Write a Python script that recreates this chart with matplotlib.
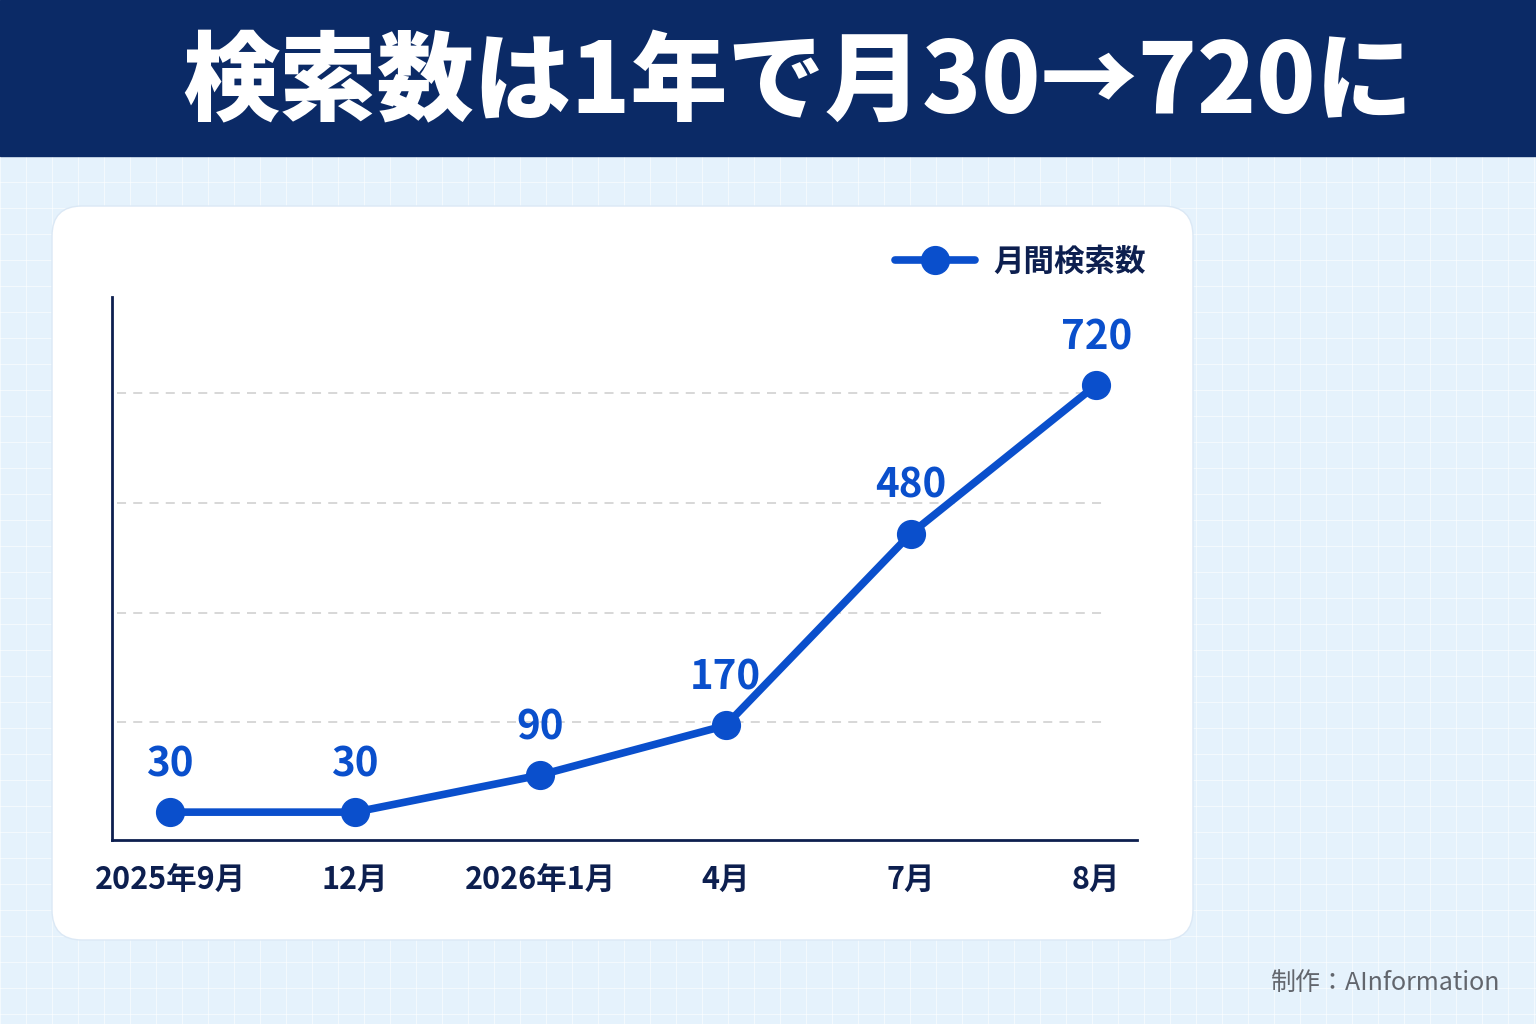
import numpy as np
import matplotlib
matplotlib.use("Agg")
import matplotlib.pyplot as plt
from matplotlib.patches import FancyBboxPatch, Rectangle

plt.rcParams['font.family'] = ['Noto Sans CJK JP', 'DejaVu Sans']

months = ["2025年9月", "12月", "2026年1月", "4月", "7月", "8月"]
searches = [30, 30, 90, 170, 480, 720]
series_name = "月間検索数"
title = "検索数は1年で月30→720に"
credit = "制作：AInformation"

navy = "#0b2a66"
ink = "#0d1f4f"
blue = "#0a4fcc"
bg = "#e5f2fc"

fig = plt.figure(figsize=(15.36, 10.24), dpi=100)
fig.patch.set_facecolor(bg)

# background layer: faint grid, header band, white card
back = fig.add_axes([0, 0, 1, 1])
back.set_xlim(0, 1536)
back.set_ylim(1024, 0)
back.axis("off")
for gx in np.arange(0, 1536, 26):
    back.axvline(gx, color="white", lw=0.8, alpha=0.55, zorder=0)
for gy in np.arange(156, 1024, 26):
    back.axhline(gy, color="white", lw=0.8, alpha=0.55, zorder=0)
back.add_patch(Rectangle((0, 0), 1536, 156, color=navy, zorder=2))
back.add_patch(FancyBboxPatch((52, 206), 1141, 734,
                              boxstyle="round,pad=0,rounding_size=30",
                              fc="white", ec="#dbe8f5", lw=1, zorder=2))
back.text(798, 84, title, color="white", fontsize=70, fontweight="heavy",
          ha="center", va="center", zorder=3)
back.text(1500, 983, credit, color="#62666d", fontsize=18,
          ha="right", va="center", zorder=3)

# chart
ax = fig.add_axes([112 / 1536, 184 / 1024, 1025 / 1536, 543 / 1024])
ax.set_facecolor("none")
x = np.arange(len(months))
ax.plot(x, searches, color=blue, lw=5.5, marker="o", markersize=20,
        label=series_name, zorder=3, solid_capstyle="round")
for xi, v in zip(x, searches):
    ax.annotate(str(v), (xi, v), xytext=(0, 34), textcoords="offset points",
                ha="center", va="center", color=blue, fontsize=29,
                fontweight="bold")

ax.set_xlim(-0.313, 5.22)
ax.set_ylim(-15, 862)
ax.set_xticks(x)
ax.set_xticklabels(months, fontsize=22, fontweight="bold", color=ink)
ax.tick_params(axis="x", length=0, pad=17)
ax.set_yticks([])
for gv in [175, 352, 530, 707]:
    ax.axhline(gv, xmin=0.005, xmax=0.969, color="#d4d4d4", lw=1.3,
               ls=(0, (5, 4)), zorder=1)

for side in ["top", "right"]:
    ax.spines[side].set_visible(False)
for side in ["left", "bottom"]:
    ax.spines[side].set_color(ink)
    ax.spines[side].set_linewidth(2)

leg = ax.legend(loc="upper right", bbox_to_anchor=(1.035, 1.145), frameon=False,
                handlelength=2.6, handletextpad=0.6,
                prop={"size": 22, "weight": "bold"})
for t in leg.get_texts():
    t.set_color(ink)

fig.savefig("out.png", dpi=100, facecolor=fig.get_facecolor())
